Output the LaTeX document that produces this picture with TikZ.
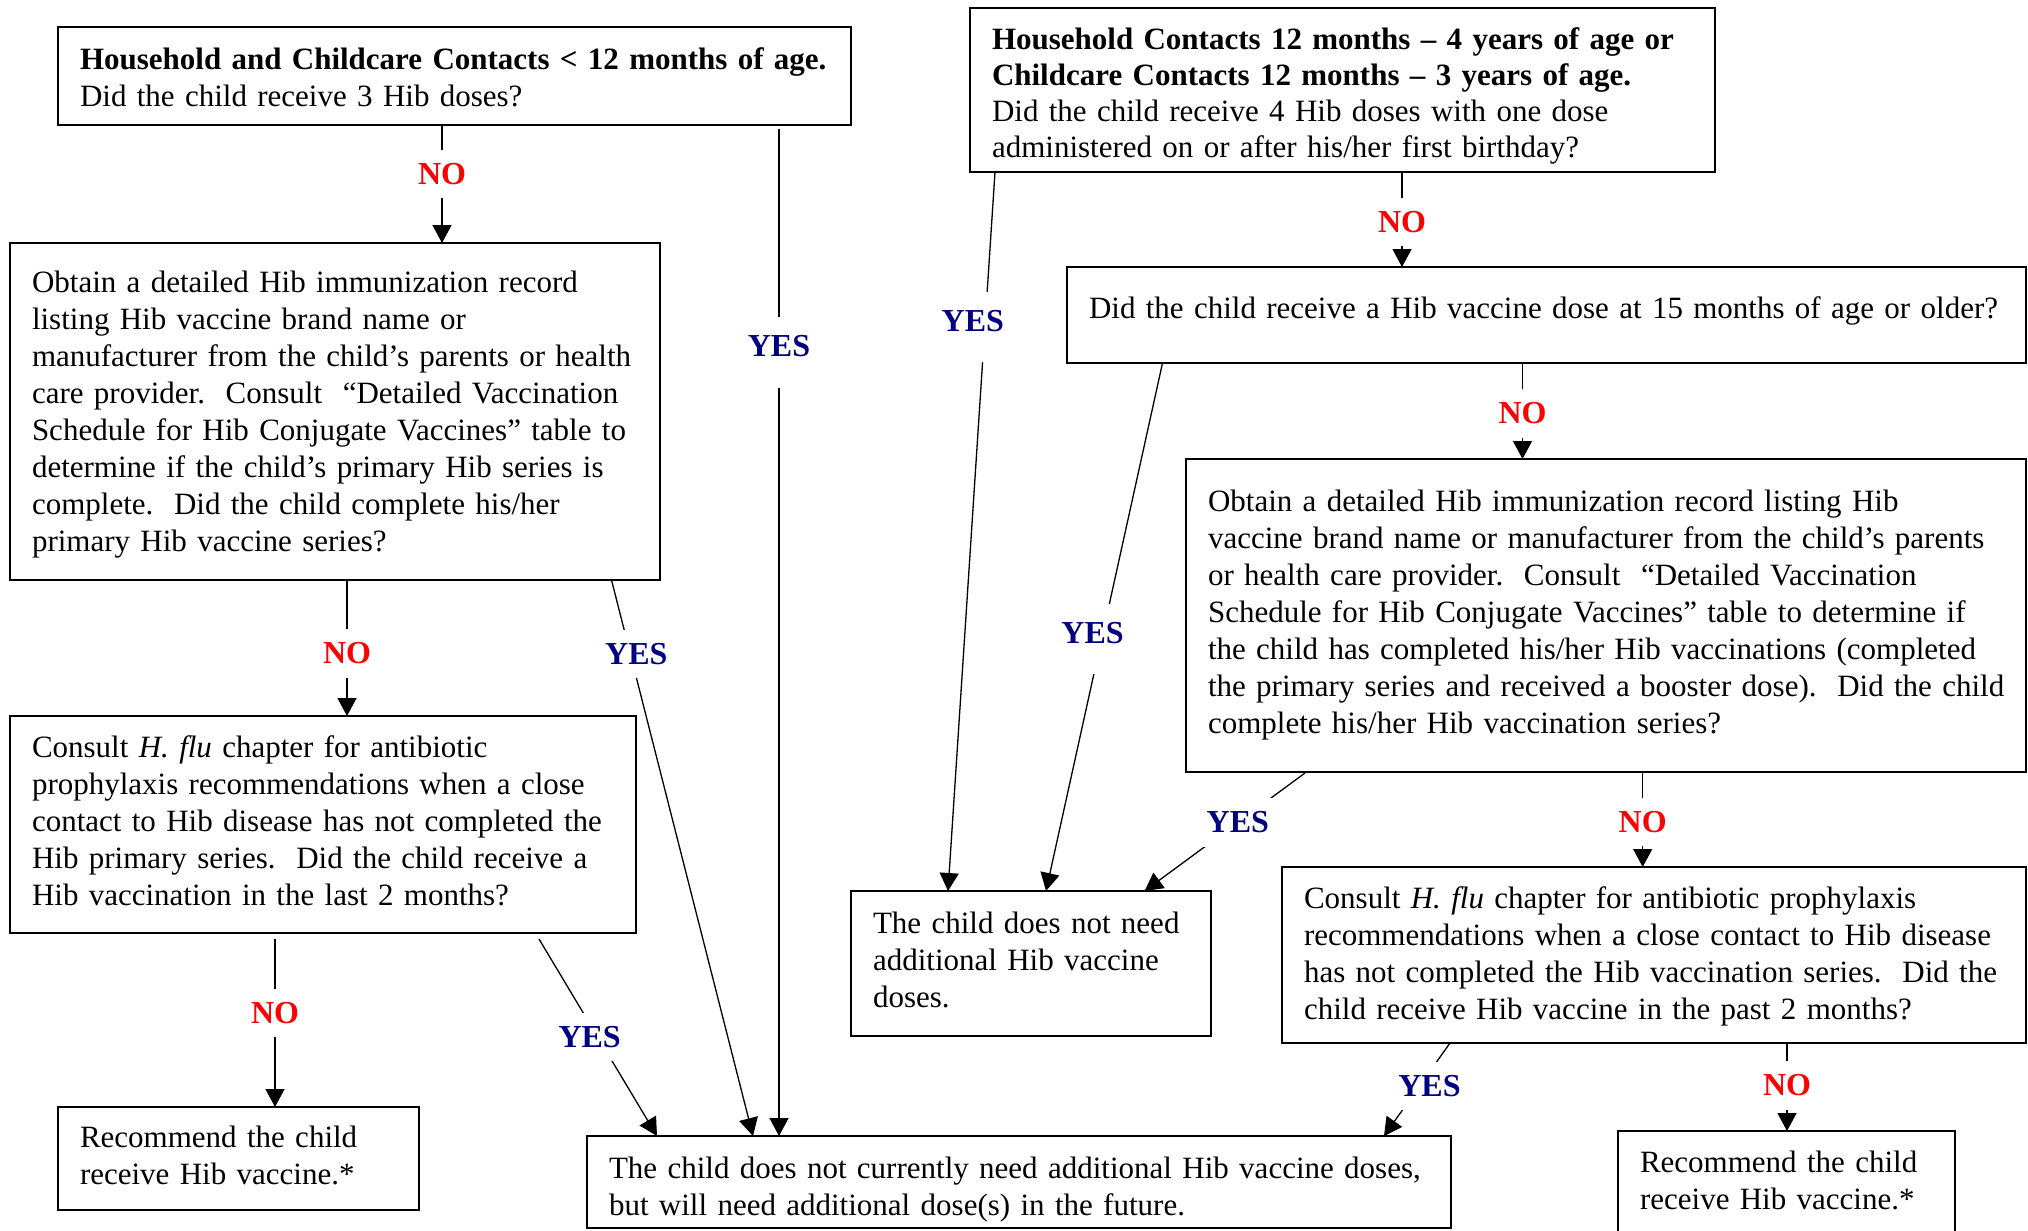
\documentclass[tikz,border=0pt]{standalone}
\usepackage{fontspec}
\setmainfont{Liberation Serif}
\usepackage{xcolor}
\usetikzlibrary{calc, positioning, arrows.meta}

\definecolor{noRed}{RGB}{255,0,0}
\definecolor{yesBlue}{RGB}{0,0,128}

% extra room above the first line / below the last line of a box
\newcommand{\padtop}[1]{\rule{0pt}{#1}}
\newcommand{\padbot}[1]{\rule[-#1]{0pt}{#1}}

\tikzset{
  qbox/.style={draw, line width=2.6bp, anchor=north west, outer sep=0pt,
    inner xsep=22bp, inner ysep=0pt, align=left},
  lbl/.style={fill=white, font=\fontsize{32bp}{37bp}\selectfont\bfseries, inner sep=13.5bp},
  no/.style={lbl, text=noRed},
  yes/.style={lbl, text=yesBlue},
  yeslong/.style={yes, inner ysep=18bp, text depth=13bp},
  link/.style={line width=1.3bp, -{Triangle[length=18bp,width=19bp]}}
}

\begin{document}
\begin{tikzpicture}[x=1bp, y=-1bp, font=\fontsize{31bp}{37bp}\selectfont]

  \useasboundingbox (0,0) rectangle (2028,1230);

  % left column

  \node[qbox, minimum width=793bp, minimum height=98bp, text width=749bp] (under12) at (58,27) {
    \begin{tabular}{@{}l@{}}
      \padtop{36bp}\textbf{Household and Childcare Contacts < 12 months of age.} \\
      Did the child receive 3 Hib doses? \\
    \end{tabular}
  };

  \node[qbox, minimum width=650bp, minimum height=337bp, text width=606bp] (recordL) at (10,243) {
    \begin{tabular}{@{}l@{}}
      \padtop{33bp}Obtain a detailed Hib immunization record \\
      listing Hib vaccine brand name or \\
      manufacturer from the child’s parents or health \\
      care provider.\ \ Consult\ \ “Detailed Vaccination \\
      Schedule for Hib Conjugate Vaccines” table to \\
      determine if the child’s primary Hib series is \\
      complete.\ \ Did the child complete his/her \\
      primary Hib vaccine series? \\
    \end{tabular}
  };

  \node[qbox, minimum width=626bp, minimum height=217bp, text width=582bp] (hfluL) at (10,716) {
    \begin{tabular}{@{}l@{}}
      Consult \textit{H. flu} chapter for antibiotic \\
      prophylaxis recommendations when a close \\
      contact to Hib disease has not completed the \\
      Hib primary series.\ \ Did the child receive a \\
      Hib vaccination in the last 2 months? \\
    \end{tabular}
  };

  \node[qbox, minimum width=361bp, minimum height=103bp, text width=317bp] (recL) at (58,1107) {
    \begin{tabular}{@{}l@{}}
      Recommend the child \\
      receive Hib vaccine.* \\
    \end{tabular}
  };

  \node[qbox, minimum width=864bp, minimum height=92bp, text width=820bp] (later) at (587,1136) {
    \begin{tabular}{@{}l@{}}
      \padtop{41bp}The child does not currently need additional Hib vaccine doses, \\
      but will need additional dose(s) in the future. \\
    \end{tabular}
  };

  % right column

  \node[qbox, minimum width=745bp, minimum height=164bp, text width=701bp,
    font=\fontsize{31bp}{36.2bp}\selectfont] (over12) at (970,8) {
    \begin{tabular}{@{}l@{}}
      \padtop{37.5bp}\textbf{Household Contacts 12 months – 4 years of age or} \\
      \textbf{Childcare Contacts 12 months – 3 years of age.} \\
      Did the child receive 4 Hib doses with one dose \\
      administered on or after his/her first birthday? \\
    \end{tabular}
  };

  \node[qbox, minimum width=959bp, minimum height=96bp, text width=915bp] (dose15) at (1067,267) {
    \begin{tabular}{@{}l@{}}
      Did the child receive a Hib vaccine dose at 15 months of age or older?\padbot{19bp} \\
    \end{tabular}
  };

  \node[qbox, minimum width=840bp, minimum height=313bp, text width=796bp] (recordR) at (1186,459) {
    \begin{tabular}{@{}l@{}}
      Obtain a detailed Hib immunization record listing Hib \\
      vaccine brand name or manufacturer from the child’s parents \\
      or health care provider.\ \ Consult\ \ “Detailed Vaccination \\
      Schedule for Hib Conjugate Vaccines” table to determine if \\
      the child has completed his/her Hib vaccinations (completed \\
      the primary series and received a booster dose).\ \ Did the child \\
      complete his/her Hib vaccination series? \\
    \end{tabular}
  };

  \node[qbox, minimum width=360bp, minimum height=145bp, text width=316bp] (noneed) at (851,891) {
    \begin{tabular}{@{}l@{}}
      The child does not need \\
      additional Hib vaccine \\
      doses. \\
    \end{tabular}
  };

  \node[qbox, minimum width=744bp, minimum height=176bp, text width=700bp] (hfluR) at (1282,867) {
    \begin{tabular}{@{}l@{}}
      \padtop{29bp}Consult \textit{H. flu} chapter for antibiotic prophylaxis \\
      recommendations when a close contact to Hib disease \\
      has not completed the Hib vaccination series.\ \ Did the \\
      child receive Hib vaccine in the past 2 months? \\
    \end{tabular}
  };

  \node[qbox, minimum width=337bp, minimum height=106bp, text width=293bp] (recR) at (1618,1131) {
    \begin{tabular}{@{}l@{}}
      Recommend the child \\
      receive Hib vaccine.* \\
    \end{tabular}
  };

  % YES / NO links, left

  \draw[link] ($(under12.south west)+(384,0)$) -- node[no, pos=0.415] {NO} ($(recordL.north west)+(432,0)$);
  \draw[link] ($(under12.south west)+(721,4)$) -- node[yeslong, pos=0.222] {YES} ($(later.north west)+(192,0)$);
  \draw[link] ($(recordL.south west)+(337,0)$) -- node[no, pos=0.54] {NO} ($(hfluL.north west)+(337,0)$);
  \draw[link] ($(recordL.south west)+(601.5,0)$) -- node[yes, pos=0.133, xshift=6bp] {YES} ($(later.north west)+(166,0)$);
  \draw[link] ($(hfluL.south west)+(265,6)$) -- node[no, pos=0.44] {NO} ($(recL.north west)+(217,0)$);
  \draw[link] ($(hfluL.south west)+(529,6)$) -- node[yes, pos=0.497, xshift=-8bp] {YES} ($(later.north west)+(70,0)$);

  % YES / NO links, right

  \draw[link] ($(over12.south west)+(25,0)$) -- node[yeslong, pos=0.216, xshift=-12bp] {YES} ($(noneed.north west)+(97,0)$);
  \draw[link] ($(over12.south west)+(432,0)$) -- node[no, pos=0.526] {NO} ($(dose15.north west)+(335,0)$);
  \draw[link] ($(dose15.south west)+(95.5,0)$) -- node[yeslong, pos=0.523, xshift=-9bp] {YES} ($(noneed.north west)+(195,0)$);
  \draw[link] ($(dose15.south west)+(455.5,0)$) -- node[no, pos=0.526] {NO} ($(recordR.north west)+(336.5,0)$);
  \draw[link] ($(recordR.south west)+(119,1)$) -- node[yes, pos=0.419] {YES} ($(noneed.north west)+(293.6,0)$);
  \draw[link] ($(recordR.south west)+(456.7,0)$) -- node[no, pos=0.526] {NO} ($(hfluR.north west)+(360.7,0)$);
  \draw[link] ($(hfluR.south west)+(168,0)$) -- node[yes, pos=0.463, xshift=10bp] {YES} ($(later.north west)+(797,0)$);
  \draw[link] ($(hfluR.south west)+(505,0)$) -- node[no, pos=0.48] {NO} ($(recR.north west)+(169,0)$);

\end{tikzpicture}
\end{document}
